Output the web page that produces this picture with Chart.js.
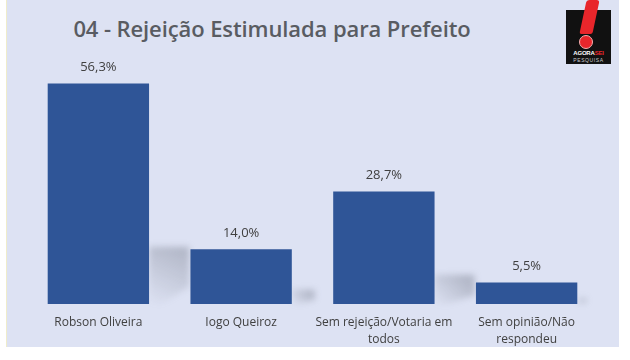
<!DOCTYPE html>
<html>
<head>
<meta charset="utf-8">
<script src="https://cdn.jsdelivr.net/npm/chart.js@4"></script>
<style>
  html, body { margin: 0; padding: 0; background: #fff; }
  #wrap { position: relative; width: 630px; height: 360px; overflow: hidden; }
  #panel {
    position: absolute; left: 6px; top: 0; width: 612px; height: 347px;
    background: #dde2f3; border-left: 1px solid #efeccb;
  }
  #titulo {
    position: absolute; left: 0; top: 13px; width: 544px; text-align: center;
    font: 600 22px "Open Sans", sans-serif; color: #595c62; letter-spacing: -0.1px;
  }
  #logo {
    position: absolute; left: 566px; top: 10px; width: 45px; height: 54px; background: #111;
  }
  #logo .exc {
    position: absolute; left: 17px; top: -10px; width: 13px; height: 34px;
    background: #e8262b; transform: skewX(-12deg); border-radius: 3px 3px 2px 2px;
  }
  #logo .dot {
    position: absolute; left: 13px; top: 25px; width: 12px; height: 12px;
    background: #e8262b; border-radius: 50%; border: 1px solid #f6b0b0;
  }
  #logo .t1 {
    position: absolute; left: 0; top: 40px; width: 45px; text-align: center;
    font: bold 6px "Liberation Sans", sans-serif; color: #fff; letter-spacing: -0.2px;
  }
  #logo .t1 span { color: #e8262b; }
  #logo .t2 {
    position: absolute; left: 0; top: 47px; width: 45px; text-align: center;
    font: 5px "Liberation Sans", sans-serif; color: #ccc; letter-spacing: 0.6px;
  }
  canvas { position: absolute; left: 0; top: 0; }
</style>
</head>
<body>
<div id="wrap">
  <div id="panel"></div>
  <div id="titulo">04 - Rejeição Estimulada para Prefeito</div>
  <div id="logo">
    <div class="exc"></div><div class="dot"></div>
    <div class="t1">AGORA<span>SEI</span></div>
    <div class="t2">PESQUISA</div>
  </div>
  <canvas id="grafico" width="630" height="360"></canvas>
</div>
<script>
// ── Dados ──────────────────────────────────────────────────
const categorias = [
    ['Robson Oliveira'],
    ['Iogo Queiroz'],
    ['Sem rejeição/Votaria em', 'todos'],
    ['Sem opinião/Não', 'respondeu'],
];
const rejeicao = [56.3, 14.0, 28.7, 5.5];

const COR_BARRA = '#2f5597';
const COR_TEXTO = '#404040';
const FONTE     = '"Open Sans", sans-serif';

const fmt = v => v.toFixed(1).replace('.', ',') + '%';

// ── Sombra diagonal atrás das barras ───────────────────────
const sombraPlugin = {
    id: 'sombra',
    beforeDatasetsDraw(chart) {
        const ctx = chart.ctx;
        chart.getDatasetMeta(0).data.forEach(bar => {
            const right = bar.x + bar.width / 2;
            const s     = (bar.base - bar.y) * 0.26;
            const w     = Math.min(40, s * 1.6);
            const g     = ctx.createLinearGradient(right, bar.base, right + w * 0.7, bar.base - s);
            g.addColorStop(0, 'rgba(110,115,130,0)');
            g.addColorStop(1, 'rgba(110,115,130,0.38)');
            ctx.save();
            ctx.filter    = 'blur(3px)';
            ctx.fillStyle = g;
            ctx.beginPath();
            ctx.moveTo(right, bar.base - s);
            ctx.lineTo(right + w, bar.base - s);
            ctx.lineTo(right + w, bar.base - s * 0.3);
            ctx.lineTo(right + w * 0.3, bar.base);
            ctx.lineTo(right, bar.base);
            ctx.closePath();
            ctx.fill();
            ctx.restore();
        });
    },
};

// ── Rótulos de valor + categorias ──────────────────────────
const rotulosPlugin = {
    id: 'rotulos',
    afterDatasetsDraw(chart) {
        const ctx = chart.ctx;
        const x   = chart.scales.x;
        ctx.save();
        ctx.fillStyle    = COR_TEXTO;
        ctx.textAlign    = 'center';
        ctx.textBaseline = 'middle';

        ctx.font = `13px ${FONTE}`;
        chart.getDatasetMeta(0).data.forEach((bar, i) => {
            ctx.fillText(fmt(rejeicao[i]), bar.x, bar.y - 16);
        });

        ctx.font = `12px ${FONTE}`;
        categorias.forEach((linhas, i) => {
            const cx = x.getPixelForValue(i);
            linhas.forEach((l, j) => ctx.fillText(l, cx, chart.chartArea.bottom + 19 + j * 17));
        });
        ctx.restore();
    },
};

new Chart(document.getElementById('grafico').getContext('2d'), {
    type: 'bar',
    data: {
        labels: categorias,
        datasets: [{
            data:               rejeicao,
            backgroundColor:    COR_BARRA,
            borderWidth:        0,
            barPercentage:      0.71,
            categoryPercentage: 1,
        }],
    },
    options: {
        responsive: false,
        animation:  false,
        devicePixelRatio: 1,
        layout: { padding: { left: 27, right: 32, top: 69, bottom: 56 } },
        plugins: {
            legend:  { display: false },
            tooltip: { enabled: false },
        },
        scales: {
            y: { display: false, min: 0, max: 60 },
            x: { display: false },
        },
    },
    plugins: [sombraPlugin, rotulosPlugin],
});
</script>
</body>
</html>
